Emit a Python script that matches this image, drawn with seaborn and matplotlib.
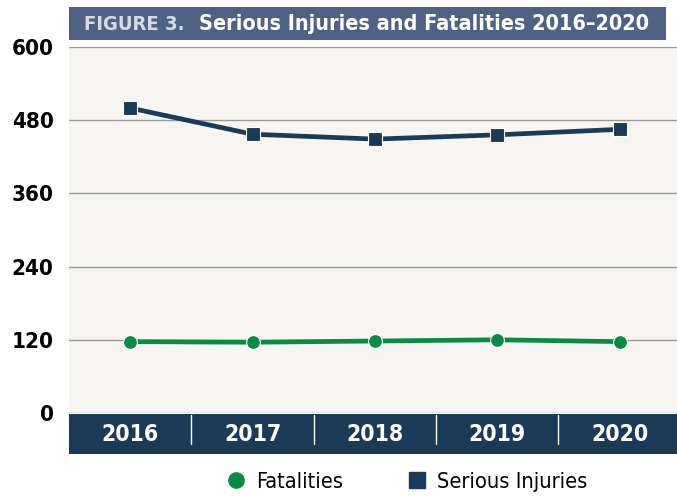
import numpy as np
import pandas as pd
import matplotlib
matplotlib.use('agg')
import matplotlib.pyplot as plt
from matplotlib.patches import Rectangle
import seaborn as sns

sns.set_theme(style='white')
plt.rcParams['font.family'] = ['DejaVu Sans']
plt.rcParams['font.stretch'] = 'condensed'

# data
years = ['2016', '2017', '2018', '2019', '2020']
fatalities = [117, 116, 118, 120, 117]
serious_injuries = [500, 457, 449, 456, 465]
y_ticks = [0, 120, 240, 360, 480, 600]

navy = '#1b3a57'
green = '#0b8a45'

df = pd.DataFrame({'year': years * 2,
                   'value': fatalities + serious_injuries,
                   'series': ['Fatalities'] * 5 + ['Serious Injuries'] * 5})

W, H = 677, 496
fig = plt.figure(figsize=(W / 100, H / 100), dpi=100)
fig.patch.set_facecolor('white')

# axes in pixel coords
left, right, top, bottom = 69, 677, 47, 413
ax = fig.add_axes([left / W, 1 - bottom / H, (right - left) / W, (bottom - top) / H])
ax.set_facecolor('#f6f5f1')

sns.lineplot(data=df, x='year', y='value', hue='series', style='series',
             palette={'Fatalities': green, 'Serious Injuries': navy},
             markers={'Fatalities': 'o', 'Serious Injuries': 's'},
             dashes=False, linewidth=3.4, markersize=10,
             markeredgecolor='white', markeredgewidth=0.8,
             ax=ax, legend=False, zorder=3)

ax.set_ylim(0, 600)
ax.set_xlim(-0.5, 4.47)
ax.set_yticks(y_ticks)
ax.set_yticklabels([str(t) for t in y_ticks], fontsize=16, fontweight='bold', color='black')
ax.grid(axis='y', color='#9a9a9a', linewidth=1.0)
ax.grid(axis='x', visible=False)
for s in ax.spines.values():
    s.set_visible(False)
ax.tick_params(axis='y', length=0, pad=11)
ax.set_xlabel('')
ax.set_ylabel('')

# year labels in navy band
ax.set_xticks(range(len(years)))
ax.set_xticklabels(years, fontsize=16.5, fontweight='bold', color='white')
ax.tick_params(axis='x', length=0, pad=7)

band = Rectangle((left / W, 1 - 454 / H), (right - left) / W, 40 / H,
                 transform=fig.transFigure, facecolor=navy, edgecolor='none', zorder=-1)
fig.patches.append(band)
for xs in [0.5, 1.5, 2.5, 3.5]:
    ax.plot([xs, xs], [-0.005, -0.085], color='white', linewidth=1,
            transform=ax.get_xaxis_transform(), clip_on=False)

# title bar
bar = Rectangle((69 / W, 1 - 40 / H), (666 - 69) / W, 33 / H,
                transform=fig.transFigure, facecolor='#4f6283', edgecolor='none')
fig.patches.append(bar)
fig.text(84 / W, 1 - 24 / H, 'FIGURE 3.', color='#d5dbe5', fontsize=14.5,
         fontweight='bold', va='center', ha='left')
fig.text(199 / W, 1 - 24 / H, 'Serious Injuries and Fatalities 2016\u20132020', color='white',
         fontsize=15.5, fontweight='bold', va='center', ha='left')

# legend
handles = [plt.Line2D([], [], color=green, marker='o', linestyle='none', markersize=11),
           plt.Line2D([], [], color=navy, marker='s', linestyle='none', markersize=11)]
fig.legend(handles, ['Fatalities', 'Serious Injuries'], loc='center',
           bbox_to_anchor=(405 / W, 1 - 482 / H), ncol=2, frameon=False,
           fontsize=15.7, handletextpad=0.3, columnspacing=2.8, handlelength=1.2,
           labelcolor='black')

fig.savefig('out.png', dpi=100)
